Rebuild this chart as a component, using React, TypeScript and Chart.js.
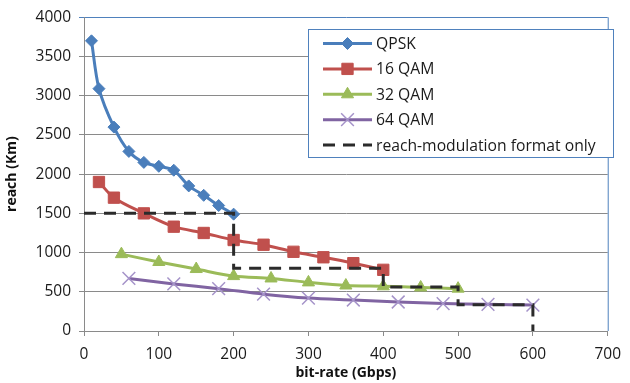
import React, { useEffect, useRef } from 'react';
import { Chart, registerables } from 'chart.js';
import { drawPoint } from 'chart.js/helpers';

Chart.register(...registerables);

const seriesNames = ['QPSK', '16 QAM', '32 QAM', '64 QAM', 'reach-modulation format only'];

const qpskX = [10, 20, 40, 60, 80, 100, 120, 140, 160, 180, 200];
const qpskY = [3700, 3090, 2600, 2290, 2150, 2100, 2050, 1850, 1730, 1600, 1490];
const qam16X = [20, 40, 80, 120, 160, 200, 240, 280, 320, 360, 400];
const qam16Y = [1900, 1700, 1500, 1330, 1250, 1160, 1100, 1010, 940, 865, 780];
const qam32X = [50, 100, 150, 200, 250, 300, 350, 400, 450, 500];
const qam32Y = [980, 880, 790, 700, 670, 620, 580, 570, 555, 540];
const qam64X = [60, 120, 180, 240, 300, 360, 420, 480, 540, 600];
const qam64Y = [670, 600, 540, 470, 420, 395, 370, 350, 340, 330];
const reachX = [0, 200, 200, 400, 400, 500, 500, 600, 600];
const reachY = [1500, 1500, 800, 800, 560, 560, 335, 335, 0];

const xTitle = 'bit-rate (Gbps)';
const yTitle = 'reach (Km)';

const FONT = "'Open Sans', sans-serif";

const pts = (xs: number[], ys: number[]) => xs.map((x, i) => ({ x, y: ys[i] }));

const legendPlugin = {
  id: 'customLegend',
  afterDraw(chart: any) {
    const { ctx, chartArea } = chart;
    ctx.save();
    ctx.strokeStyle = '#4f81bd';
    ctx.lineWidth = 1;
    ctx.beginPath();
    ctx.moveTo(chartArea.right + 0.5, chartArea.top);
    ctx.lineTo(chartArea.right + 0.5, chartArea.bottom);
    ctx.stroke();

    const bx = 308, by = 29, bw = 305, bh = 128;
    ctx.fillStyle = '#ffffff';
    ctx.fillRect(bx, by, bw, bh);
    ctx.strokeStyle = '#4f81bd';
    ctx.lineWidth = 1;
    ctx.strokeRect(bx + 0.5, by + 0.5, bw, bh);

    const lx0 = 323, lx1 = 372, mx = 347.5, tx = 376;
    const y0 = 43.5, step = 25.4;
    chart.data.datasets.forEach((ds: any, i: number) => {
      const y = y0 + i * step;
      ctx.save();
      ctx.strokeStyle = ds.borderColor;
      ctx.lineWidth = ds.borderWidth;
      if (ds.borderDash) ctx.setLineDash(ds.borderDash);
      ctx.beginPath();
      ctx.moveTo(lx0, y);
      ctx.lineTo(lx1, y);
      ctx.stroke();
      ctx.restore();
      if (ds.pointRadius > 0) {
        ctx.save();
        ctx.fillStyle = ds.pointBackgroundColor;
        ctx.strokeStyle = ds.pointBorderColor;
        ctx.lineWidth = ds.pointBorderWidth;
        drawPoint(ctx, {
          pointStyle: ds.pointStyle,
          radius: ds.pointRadius,
          rotation: 0,
          borderWidth: ds.pointBorderWidth,
        } as any, mx, y);
        ctx.restore();
      }
      ctx.fillStyle = '#1a1a1a';
      ctx.font = `15.7px ${FONT}`;
      ctx.textBaseline = 'middle';
      ctx.textAlign = 'left';
      ctx.fillText(ds.label, tx, y + 1);
    });
    ctx.restore();
  },
};

export default function App() {
  const ref = useRef<HTMLCanvasElement>(null);
  useEffect(() => {
    document.body.style.margin = '0';
    const canvas = ref.current!;
    const chart = new Chart(canvas, {
      type: 'line',
      data: {
        datasets: [
          {
            label: seriesNames[0],
            data: pts(qpskX, qpskY),
            borderColor: '#4a7ebb',
            borderWidth: 3,
            tension: 0.3,
            pointStyle: 'rectRot',
            pointRadius: 6,
            pointBackgroundColor: '#4a7ebb',
            pointBorderColor: '#4a7ebb',
            pointBorderWidth: 1,
            order: 1,
          },
          {
            label: seriesNames[1],
            data: pts(qam16X, qam16Y),
            borderColor: '#c0504d',
            borderWidth: 3,
            tension: 0.3,
            pointStyle: 'rect',
            pointRadius: 8,
            pointBackgroundColor: '#c0504d',
            pointBorderColor: '#c0504d',
            pointBorderWidth: 1,
            order: 1,
          },
          {
            label: seriesNames[2],
            data: pts(qam32X, qam32Y),
            borderColor: '#9bbb59',
            borderWidth: 3,
            tension: 0.3,
            pointStyle: 'triangle',
            pointRadius: 7,
            pointBackgroundColor: '#9bbb59',
            pointBorderColor: '#9bbb59',
            pointBorderWidth: 1,
            order: 1,
          },
          {
            label: seriesNames[3],
            data: pts(qam64X, qam64Y),
            borderColor: '#8064a2',
            borderWidth: 3,
            tension: 0.3,
            pointStyle: 'crossRot',
            pointRadius: 9,
            pointBackgroundColor: '#a593c9',
            pointBorderColor: '#a593c9',
            pointBorderWidth: 1.5,
            order: 1,
          },
          {
            label: seriesNames[4],
            data: pts(reachX, reachY),
            borderColor: '#2b2b2b',
            borderWidth: 3,
            borderDash: [12, 8],
            tension: 0,
            pointRadius: 0,
            pointBackgroundColor: '#2b2b2b',
            pointBorderColor: '#2b2b2b',
            pointBorderWidth: 0,
            order: 0,
          },
        ] as any,
      },
      options: {
        responsive: false,
        animation: false,
        layout: { padding: { top: 15, right: 15, left: 0, bottom: 0 } },
        plugins: { legend: { display: false }, tooltip: { enabled: false } },
        scales: {
          x: {
            type: 'linear',
            min: 0,
            max: 700,
            ticks: {
              stepSize: 100,
              color: '#1a1a1a',
              font: { family: FONT, size: 15.5 },
              padding: 9,
              callback: (v: any) => String(v),
            },
            grid: { drawOnChartArea: false, color: '#8a8a8a', tickLength: 5 },
            border: { color: '#8a8a8a' },
            title: {
              display: true,
              text: xTitle,
              color: '#111',
              font: { family: FONT, size: 14, weight: 'bold' },
              padding: { top: 0, bottom: 2 },
            },
            afterFit: (s: any) => { s.height = 52; },
          },
          y: {
            min: 0,
            max: 4000,
            ticks: {
              stepSize: 500,
              color: '#1a1a1a',
              font: { family: FONT, size: 15.5 },
              padding: 8,
              callback: (v: any) => String(v),
            },
            grid: {
              color: (c: any) => (c.tick && c.tick.value === 4000 ? '#4f81bd' : '#8a8a8a'),
              tickLength: 5,
            },
            border: { color: '#8a8a8a' },
            title: {
              display: true,
              text: yTitle,
              color: '#111',
              font: { family: FONT, size: 14, weight: 'bold' },
              padding: { top: 4, bottom: 0 },
            },
            afterFit: (s: any) => { s.width = 84; },
          },
        },
      } as any,
      plugins: [legendPlugin],
    });
    return () => chart.destroy();
  }, []);
  return <canvas ref={ref} width={630} height={383} style={{ display: 'block' }} />;
}
